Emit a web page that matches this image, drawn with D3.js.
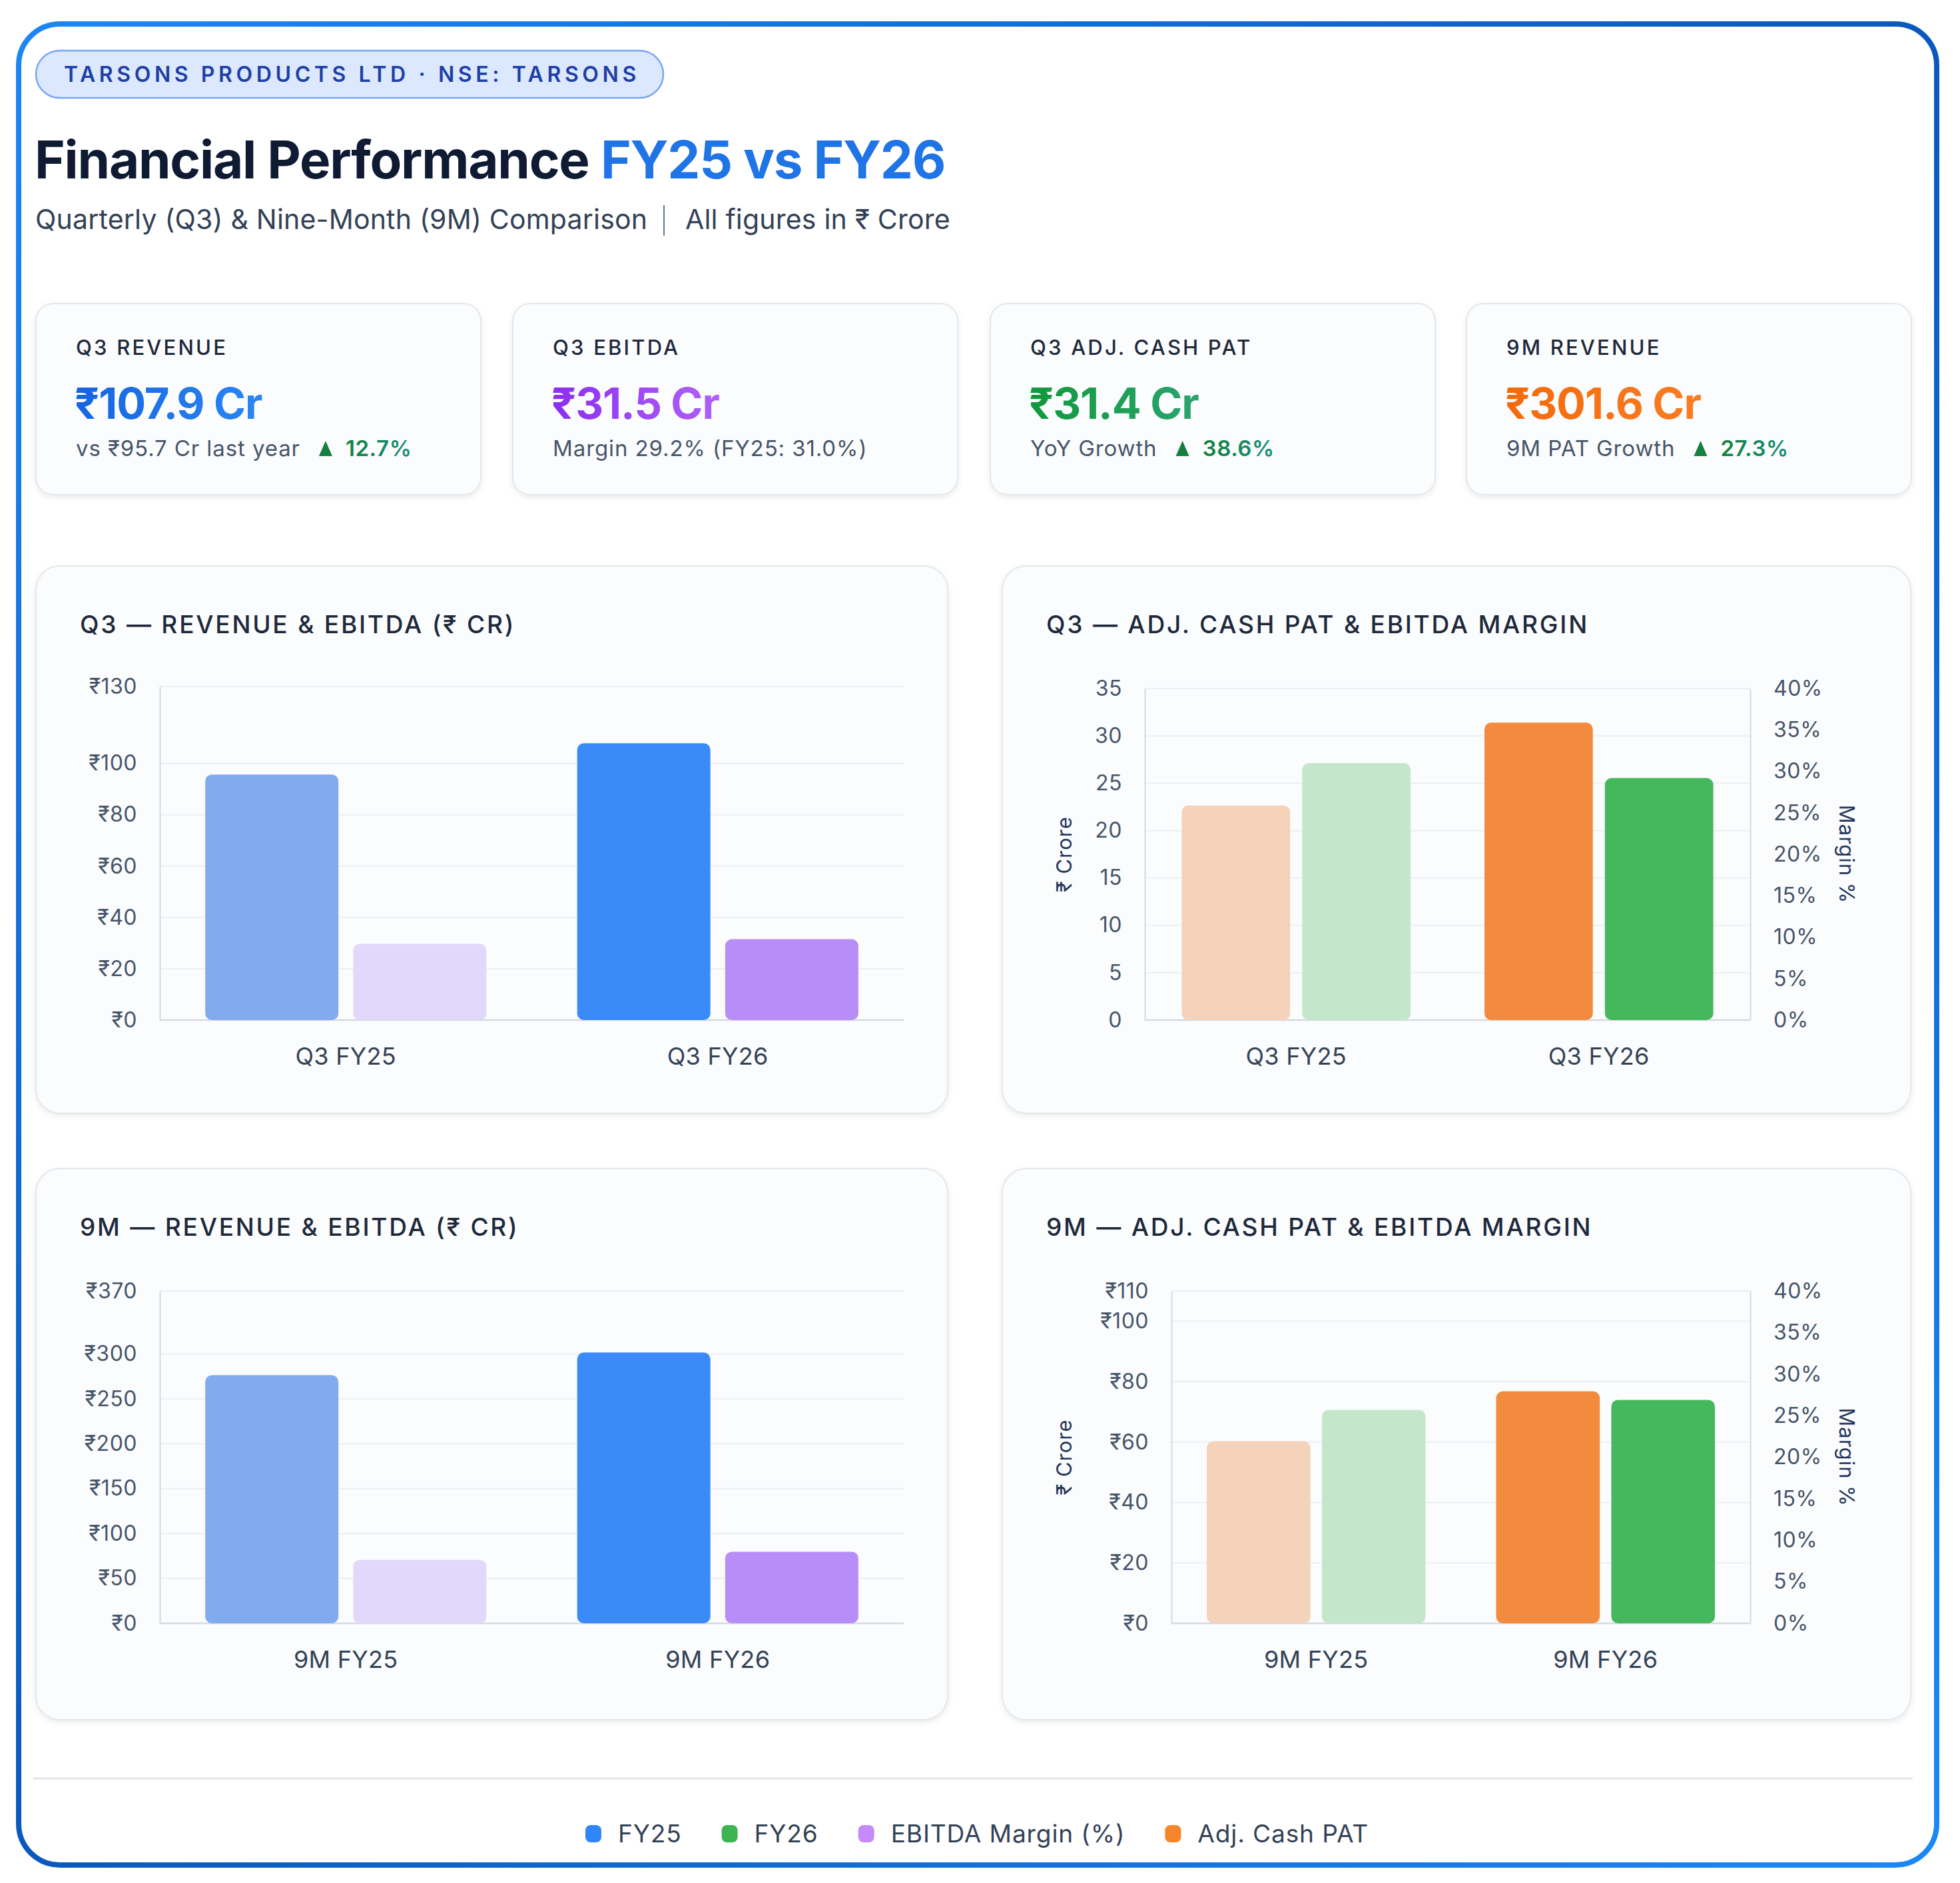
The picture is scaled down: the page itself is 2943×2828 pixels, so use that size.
<!DOCTYPE html>
<html><head><meta charset="utf-8">
<script src="https://cdn.jsdelivr.net/npm/d3@7"></script>
<style>
html,body{margin:0;padding:0;background:#fff;}
svg{display:block;font-family:Inter,"Noto Sans","DejaVu Sans",sans-serif;}
</style></head><body>
<svg id="c" width="2943" height="2828"></svg>
<script>
// ---------- DATA ----------
const q3Categories = ["Q3 FY25", "Q3 FY26"];
const nmCategories = ["9M FY25", "9M FY26"];
const q3Revenue = [95.7, 107.9];
const q3Ebitda = [29.7, 31.5];
const q3CashPat = [22.65, 31.4];
const q3Margin = [31.0, 29.2];
const nmRevenue = [276.3, 301.6];
const nmEbitda = [70.7, 79.8];
const nmCashPat = [60.3, 76.8];
const nmMargin = [25.7, 26.9];
const q3RevTicks = [0, 20, 40, 60, 80, 100, 130];
const q3PatTicks = [0, 5, 10, 15, 20, 25, 30, 35];
const nmRevTicks = [0, 50, 100, 150, 200, 250, 300, 370];
const nmPatTicks = [0, 20, 40, 60, 80, 100, 110];
const marginTicks = [0, 5, 10, 15, 20, 25, 30, 35, 40];
const kpiLabels = ["Q3 REVENUE", "Q3 EBITDA", "Q3 ADJ. CASH PAT", "9M REVENUE"];
const kpiValues = ["₹107.9 Cr", "₹31.5 Cr", "₹31.4 Cr", "₹301.6 Cr"];
const kpiNotes = ["vs ₹95.7 Cr last year", "Margin 29.2% (FY25: 31.0%)", "YoY Growth", "9M PAT Growth"];
const kpiGrowth = ["12.7%", null, "38.6%", "27.3%"];
const legendLabels = ["FY25", "FY26", "EBITDA Margin (%)", "Adj. Cash PAT"];

// ---------- STYLE ----------
const C = {
  revA: "#82abef", revB: "#3a8bf9", ebA: "#e2d8fb", ebB: "#b98df8",
  patA: "#f5d2ba", patB: "#f38b3f", mA: "#c4e7cb", mB: "#45b85d",
  ink: "#1e293b", sub: "#475569", grid: "#eceff3", axis: "#d5dae0"
};
const kpiColors = [["#1565e0", "#2b86f4"], ["#8b2ff0", "#b061f8"], ["#12983b", "#2aa56e"], ["#f46a0c", "#fa7d22"]];
const legendColors = ["#2f86f6", "#3cb44f", "#c58af9", "#f7862a"];

const svg = d3.select("#c");
const defs = svg.append("defs");

const fg = defs.append("linearGradient").attr("id", "frameG").attr("x1", 0).attr("y1", 0).attr("x2", 1).attr("y2", 1);
fg.append("stop").attr("offset", 0).attr("stop-color", "#1c86f6");
fg.append("stop").attr("offset", 0.5).attr("stop-color", "#0a58bd");
fg.append("stop").attr("offset", 1).attr("stop-color", "#1a88f7");

const sh = defs.append("filter").attr("id", "sh").attr("x", "-5%").attr("y", "-5%").attr("width", "110%").attr("height", "115%");
sh.append("feDropShadow").attr("dx", 0).attr("dy", 3).attr("stdDeviation", 4).attr("flood-color", "#0f172a").attr("flood-opacity", 0.08);

kpiColors.forEach((c, i) => {
  const g = defs.append("linearGradient").attr("id", "kg" + i).attr("x1", 0).attr("y1", 0).attr("x2", 1).attr("y2", 0);
  g.append("stop").attr("offset", 0).attr("stop-color", c[0]);
  g.append("stop").attr("offset", 1).attr("stop-color", c[1]);
});
const gg = defs.append("linearGradient").attr("id", "grow").attr("x1", 0).attr("y1", 0).attr("x2", 1).attr("y2", 0);
gg.append("stop").attr("offset", 0).attr("stop-color", "#15803d");
gg.append("stop").attr("offset", 1).attr("stop-color", "#14917a");

// ---------- FRAME ----------
svg.append("rect").attr("x", 28).attr("y", 36).attr("width", 2880).attr("height", 2765).attr("rx", 62)
  .attr("fill", "#fff").attr("stroke", "url(#frameG)").attr("stroke-width", 8);

// ---------- HEADER ----------
svg.append("rect").attr("x", 54).attr("y", 76).attr("width", 942).attr("height", 71).attr("rx", 35.5)
  .attr("fill", "#dce8fd").attr("stroke", "#78a6f2").attr("stroke-width", 2.5);
svg.append("text").attr("x", 96).attr("y", 123).attr("font-size", 32).attr("font-weight", 600)
  .attr("letter-spacing", 5.6).attr("fill", "#1e3fa6").text("TARSONS PRODUCTS LTD · NSE: TARSONS");

const title = svg.append("text").attr("x", 52).attr("y", 268).attr("font-size", 78).attr("font-weight", 700).attr("letter-spacing", -1.2);
title.append("tspan").attr("fill", "#0f1a33").text("Financial Performance ");
title.append("tspan").attr("fill", "#1f74e6").text("FY25 vs FY26");

svg.append("text").attr("x", 53).attr("y", 344).attr("font-size", 41).attr("font-weight", 400).attr("fill", "#334155")
  .attr("letter-spacing", 0.2).text("Quarterly (Q3) & Nine-Month (9M) Comparison");
svg.append("line").attr("x1", 997).attr("x2", 997).attr("y1", 308).attr("y2", 354).attr("stroke", "#64748b").attr("stroke-width", 2);
svg.append("text").attr("x", 1029).attr("y", 344).attr("font-size", 41).attr("fill", "#334155")
  .attr("letter-spacing", 0.2).text("All figures in ₹ Crore");

// ---------- KPI CARDS ----------
const kpiX = [54, 770, 1487, 2202];
kpiX.forEach((x, i) => {
  const g = svg.append("g").attr("transform", `translate(${x},456)`);
  g.append("rect").attr("width", 668).attr("height", 287).attr("rx", 26).attr("fill", "#fbfcfd")
    .attr("stroke", "#e4e7eb").attr("stroke-width", 2).attr("filter", "url(#sh)");
  g.append("text").attr("x", 60).attr("y", 77).attr("font-size", 31).attr("font-weight", 500)
    .attr("letter-spacing", 3.2).attr("fill", C.ink).text(kpiLabels[i]);
  g.append("text").attr("x", 58).attr("y", 173).attr("font-size", 65).attr("font-weight", 700)
    .attr("letter-spacing", -1).attr("fill", `url(#kg${i})`).text(kpiValues[i]);
  const note = g.append("text").attr("x", 60).attr("y", 229).attr("font-size", 33).attr("fill", C.sub)
    .attr("letter-spacing", 0.9).text(kpiNotes[i]);
  if (kpiGrowth[i]) {
    const w = note.node().getComputedTextLength();
    const tx = 60 + w + 28;
    g.append("path").attr("d", `M${tx},${229} L${tx + 20},${229} L${tx + 10},${206} Z`).attr("fill", "#15803d");
    g.append("text").attr("x", tx + 40).attr("y", 229).attr("font-size", 33).attr("font-weight", 600)
      .attr("letter-spacing", 0.6).attr("fill", "url(#grow)").text(kpiGrowth[i]);
  }
});

// ---------- CHARTS ----------
function chartCard(x, y, w, h, titleText) {
  const g = svg.append("g");
  g.append("rect").attr("x", x).attr("y", y).attr("width", w).attr("height", h).attr("rx", 36)
    .attr("fill", "#fbfcfd").attr("stroke", "#e4e7eb").attr("stroke-width", 2).attr("filter", "url(#sh)");
  g.append("text").attr("x", x + 66).attr("y", y + 101).attr("font-size", 37).attr("font-weight", 500)
    .attr("letter-spacing", 2.8).attr("fill", C.ink).text(titleText);
}

function drawChart(cfg) {
  const g = svg.append("g");
  const x0 = d3.scaleBand().domain(cfg.categories).range([cfg.left, cfg.right]);
  const bw = x0.bandwidth();
  const x1 = d3.scaleBand().domain(["a", "b"]).range([bw * 0.122, bw * 0.878]).paddingInner(0.1);
  const yL = d3.scaleLinear().domain([0, d3.max(cfg.leftTicks)]).range([cfg.bottom, cfg.top]);
  const yR = cfg.rightTicks ? d3.scaleLinear().domain([0, d3.max(cfg.rightTicks)]).range([cfg.bottom, cfg.top]) : yL;

  // grid
  g.append("g").selectAll("line").data(cfg.leftTicks.filter(d => d > 0)).join("line")
    .attr("x1", cfg.left).attr("x2", cfg.right).attr("y1", d => yL(d)).attr("y2", d => yL(d))
    .attr("stroke", C.grid).attr("stroke-width", 2);

  // left axis
  const aL = g.append("g").attr("transform", `translate(${cfg.left},0)`)
    .call(d3.axisLeft(yL).tickValues(cfg.leftTicks).tickFormat(cfg.leftFmt).tickSize(0).tickPadding(34));
  aL.select(".domain").attr("stroke", C.axis).attr("stroke-width", 2);
  aL.selectAll("text").attr("font-size", 32).attr("fill", C.sub).attr("font-family", "Inter,'Noto Sans',sans-serif").attr("letter-spacing", 0.5);

  if (cfg.rightTicks) {
    const aR = g.append("g").attr("transform", `translate(${cfg.right},0)`)
      .call(d3.axisRight(yR).tickValues(cfg.rightTicks).tickFormat(d => d + "%").tickSize(0).tickPadding(35));
    aR.select(".domain").attr("stroke", C.axis).attr("stroke-width", 2);
    aR.selectAll("text").attr("font-size", 32).attr("fill", C.sub).attr("font-family", "Inter,'Noto Sans',sans-serif").attr("letter-spacing", 0.5);
    const midY = (cfg.top + cfg.bottom) / 2;
    g.append("text").attr("transform", `translate(${1609},${midY}) rotate(-90)`).attr("text-anchor", "middle")
      .attr("font-size", 31).attr("fill", "#24365a").attr("letter-spacing", 1).text("₹ Crore");
    g.append("text").attr("transform", `translate(${2762},${midY}) rotate(90)`).attr("text-anchor", "middle")
      .attr("font-size", 31).attr("fill", "#24365a").attr("letter-spacing", 1).text("Margin %");
  }

  // baseline
  g.append("line").attr("x1", cfg.left).attr("x2", cfg.right).attr("y1", cfg.bottom).attr("y2", cfg.bottom)
    .attr("stroke", C.axis).attr("stroke-width", 2.5);

  // bars
  const rows = cfg.categories.map((c, i) => ({
    cat: c,
    bars: [
      { key: "a", v: cfg.seriesA[i], y: yL, color: cfg.colorsA[i] },
      { key: "b", v: cfg.seriesB[i], y: yR, color: cfg.colorsB[i] }
    ]
  }));
  g.append("g").selectAll("g").data(rows).join("g")
    .attr("transform", d => `translate(${x0(d.cat)},0)`)
    .selectAll("rect").data(d => d.bars).join("rect")
    .attr("x", d => x1(d.key)).attr("width", x1.bandwidth())
    .attr("y", d => d.y(d.v)).attr("height", d => cfg.bottom - d.y(d.v))
    .attr("rx", 10).attr("fill", d => d.color);

  // x labels
  g.append("g").selectAll("text").data(cfg.categories).join("text")
    .attr("x", d => x0(d) + bw / 2).attr("y", cfg.bottom + 67).attr("text-anchor", "middle")
    .attr("font-size", 36).attr("fill", "#334155").attr("letter-spacing", 0.3).text(d => d);
}

const rupee = d => "₹" + d;

chartCard(54, 850, 1369, 822, "Q3 — REVENUE & EBITDA (₹ CR)");
drawChart({ categories: q3Categories, left: 240, right: 1357, top: 1031, bottom: 1532,
  leftTicks: q3RevTicks, leftFmt: rupee, seriesA: q3Revenue, seriesB: q3Ebitda,
  colorsA: [C.revA, C.revB], colorsB: [C.ebA, C.ebB] });

chartCard(1505, 850, 1364, 822, "Q3 — ADJ. CASH PAT & EBITDA MARGIN");
drawChart({ categories: q3Categories, left: 1719, right: 2628, top: 1034, bottom: 1532,
  leftTicks: q3PatTicks, leftFmt: d => d, rightTicks: marginTicks, seriesA: q3CashPat, seriesB: q3Margin,
  colorsA: [C.patA, C.patB], colorsB: [C.mA, C.mB] });

chartCard(54, 1755, 1369, 828, "9M — REVENUE & EBITDA (₹ CR)");
drawChart({ categories: nmCategories, left: 240, right: 1357, top: 1939, bottom: 2438,
  leftTicks: nmRevTicks, leftFmt: rupee, seriesA: nmRevenue, seriesB: nmEbitda,
  colorsA: [C.revA, C.revB], colorsB: [C.ebA, C.ebB] });

chartCard(1505, 1755, 1364, 828, "9M — ADJ. CASH PAT & EBITDA MARGIN");
drawChart({ categories: nmCategories, left: 1759, right: 2628, top: 1939, bottom: 2438,
  leftTicks: nmPatTicks, leftFmt: rupee, rightTicks: marginTicks, seriesA: nmCashPat, seriesB: nmMargin,
  colorsA: [C.patA, C.patB], colorsB: [C.mA, C.mB] });

// ---------- FOOTER ----------
svg.append("line").attr("x1", 50).attr("x2", 2872).attr("y1", 2671).attr("y2", 2671).attr("stroke", "#e2e5e9").attr("stroke-width", 3);

const lg = svg.append("g");
let lx = 0;
legendLabels.forEach((t, i) => {
  const it = lg.append("g").attr("transform", `translate(${lx},0)`);
  it.append("rect").attr("x", 0).attr("y", -13).attr("width", 24).attr("height", 26).attr("rx", 8).attr("fill", legendColors[i]);
  const tx = it.append("text").attr("x", 49).attr("y", 13).attr("font-size", 37).attr("fill", "#334155").attr("letter-spacing", 0.9).text(t);
  lx += 49 + tx.node().getComputedTextLength() + 60;
});
const lw = lx - 60;
lg.attr("transform", `translate(${1467 - lw / 2},2754)`);
</script>
</body></html>
